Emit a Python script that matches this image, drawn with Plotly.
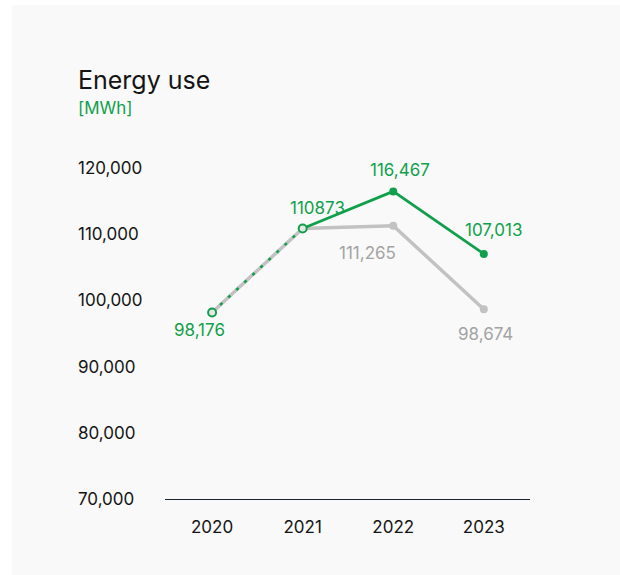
import plotly.graph_objects as go

years = ["2020", "2021", "2022", "2023"]
actual = [98176, 110873, 116467, 107013]
actual_labels = ["98,176", "110873", "116,467", "107,013"]
baseline = [98176, 110873, 111265, 98674]
baseline_labels = [None, None, "111,265", "98,674"]
y_ticks = [70000, 80000, 90000, 100000, 110000, 120000]
y_tick_text = ["70,000", "80,000", "90,000", "100,000", "110,000", "120,000"]

GREEN = "#10a04b"
GREY = "#c2c2c2"
GREY_TEXT = "#a3a3a3"
INK = "#141414"
FONT = "Inter"

fig = go.Figure()

# comparison series (grey), drawn underneath
fig.add_trace(go.Scatter(
    x=years, y=baseline, mode="lines+markers",
    line=dict(color=GREY, width=3.5),
    marker=dict(color=GREY, size=8),
    cliponaxis=False, hoverinfo="skip", showlegend=False,
))

# actual energy use: solid from 2021 on, dotted for the first interval
fig.add_trace(go.Scatter(
    x=years[1:], y=actual[1:], mode="lines+markers",
    line=dict(color=GREEN, width=2.7),
    marker=dict(color=GREEN, size=8),
    cliponaxis=False, hoverinfo="skip", showlegend=False,
))
fig.add_trace(go.Scatter(
    x=years[:2], y=actual[:2], mode="lines+markers",
    line=dict(color=GREEN, width=2.5, dash="3px,8px"),
    marker=dict(color="#e6e6e6", size=8, line=dict(color=GREEN, width=2)),
    cliponaxis=False, hoverinfo="skip", showlegend=False,
))

# value labels (x given as category index)
actual_pos = [(-13, 18), (15, -20), (7, -21), (10, -24)]
for i, (v, t, (dx, dy)) in enumerate(zip(actual, actual_labels, actual_pos)):
    fig.add_annotation(x=i, y=v, text=t, showarrow=False, xshift=dx, yshift=-dy,
                       font=dict(family=FONT, size=17, color=GREEN))
baseline_pos = [None, None, (-26, 27), (2, 25)]
for i, (v, t, p) in enumerate(zip(baseline, baseline_labels, baseline_pos)):
    if t is None:
        continue
    fig.add_annotation(x=i, y=v, text=t, showarrow=False, xshift=p[0], yshift=-p[1],
                       font=dict(family=FONT, size=17, color=GREY_TEXT))

# left-aligned y tick labels
for v, t in zip(y_ticks, y_tick_text):
    fig.add_annotation(xref="paper", x=(76 - 165) / 365, y=v, text=t, showarrow=False,
                       xanchor="left", yanchor="middle",
                       font=dict(family=FONT, size=17, color=INK))

# title and unit
fig.add_annotation(xref="paper", yref="paper", x=(76 - 165) / 365, y=1 + (168 - 80) / 331,
                   text="Energy use", showarrow=False, xanchor="left", yanchor="middle",
                   font=dict(family=FONT, size=25, color=INK))
fig.add_annotation(xref="paper", yref="paper", x=(76 - 165) / 365, y=1 + (168 - 108) / 331,
                   text="[MWh]", showarrow=False, xanchor="left", yanchor="middle",
                   font=dict(family=FONT, size=17, color=GREEN))

# light card behind the chart
fig.add_shape(type="rect", xref="paper", yref="paper", layer="below",
              x0=(12 - 165) / 365, x1=(620 - 165) / 365,
              y0=-(575 - 499) / 331, y1=1 + (168 - 5) / 331,
              fillcolor="#f9f9f9", line=dict(width=0))

fig.update_layout(
    width=620, height=575,
    margin=dict(l=165, r=90, t=168, b=76),
    paper_bgcolor="white", plot_bgcolor="rgba(0,0,0,0)",
    xaxis=dict(type="category", range=[-0.52, 3.51], showgrid=False, zeroline=False,
               showline=True, linecolor="#1c2333", linewidth=1.3,
               ticks="", tickfont=dict(family=FONT, size=17, color=INK),
               ticklabelstandoff=12),
    yaxis=dict(range=[70000, 120000], showgrid=False, zeroline=False,
               showline=False, showticklabels=False, tickvals=y_ticks),
)

fig.write_html("out.html")
